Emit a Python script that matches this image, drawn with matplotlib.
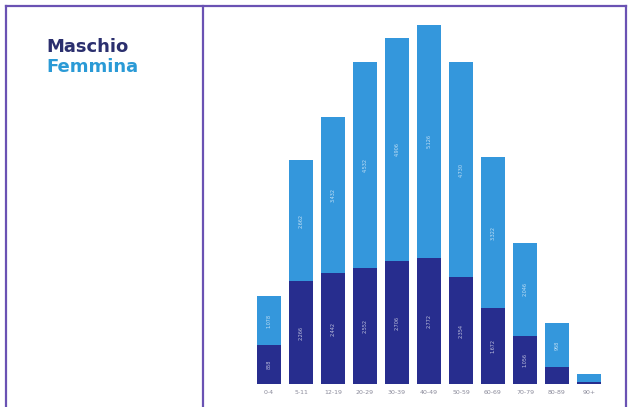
import matplotlib.pyplot as plt
from matplotlib.lines import Line2D
import numpy as np

fasce = ["0-4", "5-11", "12-19", "20-29", "30-39", "40-49", "50-59",
         "60-69", "70-79", "80-89", "90+"]
maschio = [858, 2266, 2442, 2552, 2706, 2772, 2354, 1672, 1056, 374, 44]
femmina = [1078, 2662, 3432, 4532, 4906, 5126, 4730, 3322, 2046, 968, 176]

blu = "#272d8e"
azzurro = "#3497dc"
viola = "#6a52b3"

fig = plt.figure(figsize=(6.3, 4.07), dpi=100)
W, H = 630, 407

# area del grafico (in pixel)
ax = fig.add_axes([250 / W, (H - 384) / H, 360 / W, 364 / H])
x = np.arange(len(fasce))
ax.bar(x, maschio, width=0.75, color=blu)
ax.bar(x, femmina, width=0.75, bottom=maschio, color=azzurro)

def fmt(v):
    return f"{v:,}".replace(",", ".")

for i in range(len(fasce)):
    if maschio[i] > 600:
        ax.text(x[i], maschio[i] / 2, fmt(maschio[i]), rotation=90, ha="center",
                va="center", color="white", fontsize=3.5, alpha=0.7)
    if femmina[i] > 600:
        ax.text(x[i], maschio[i] + femmina[i] / 2, fmt(femmina[i]), rotation=90,
                ha="center", va="center", color="white", fontsize=3.5, alpha=0.7)

ax.set_xlim(-0.594, -0.594 + 360 / 32)
ax.set_ylim(0, 8008)
ax.set_xticks(x)
ax.set_xticklabels(fasce, fontsize=4.5, color="#8a8a9a")
ax.tick_params(axis="x", length=0, pad=4)
ax.set_yticks([])
for s in ax.spines.values():
    s.set_visible(False)

# legenda a sinistra
fig.text(46 / W, 1 - 47 / H, "Maschio", color="#2b2f6e", fontsize=13,
         fontweight="bold", va="center", family="DejaVu Sans")
fig.text(46 / W, 1 - 67 / H, "Femmina", color="#2a9ad6", fontsize=13,
         fontweight="bold", va="center", family="DejaVu Sans")

# cornice
def linea(x0, y0, x1, y1):
    fig.add_artist(Line2D([x0 / W, x1 / W], [1 - y0 / H, 1 - y1 / H],
                          color=viola, lw=1.6))

linea(6, 6, 626, 6)
linea(6, 6, 6, 407)
linea(203, 6, 203, 407)
linea(626, 6, 626, 407)

fig.savefig("out.png", dpi=100)
